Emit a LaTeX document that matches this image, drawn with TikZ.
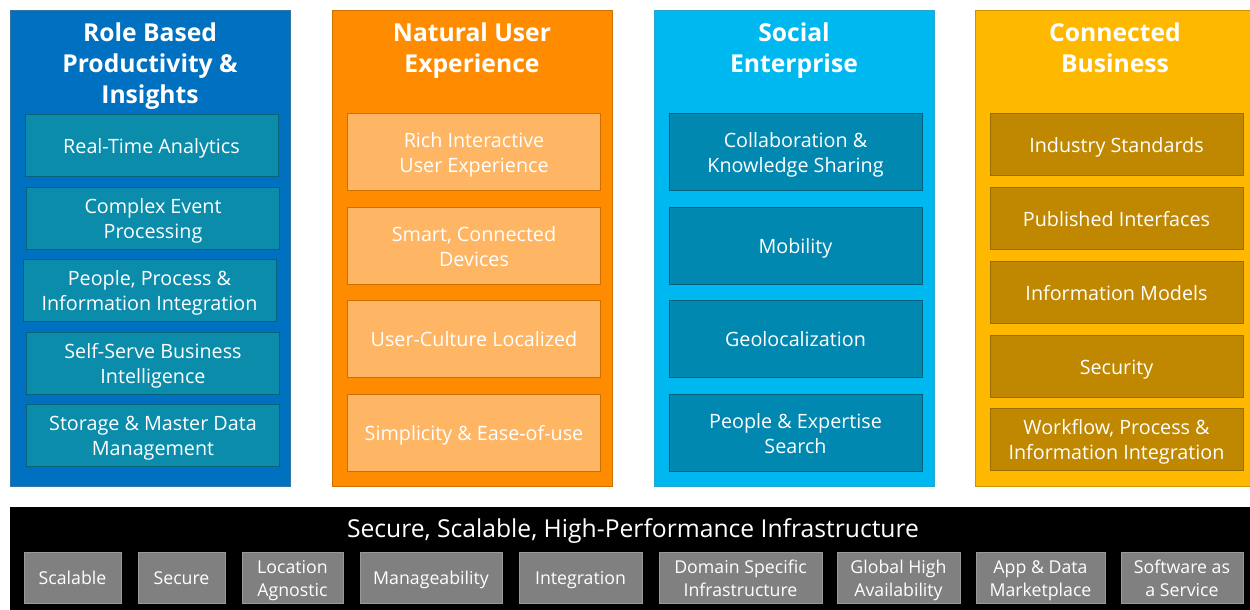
\documentclass[tikz,border=0pt]{standalone}
\usepackage{fontspec}
\setmainfont{Open Sans}
\definecolor{roleblue}{HTML}{0070C0}
\definecolor{roleinner}{HTML}{0A8CAA}
\definecolor{natorange}{HTML}{FF8C00}
\definecolor{natinner}{HTML}{FFB664}
\definecolor{socialcyan}{HTML}{00B8F0}
\definecolor{socialinner}{HTML}{0088B0}
\definecolor{conngold}{HTML}{FFB800}
\definecolor{conninner}{HTML}{BF8800}
\definecolor{infragray}{HTML}{808080}
% centred lines of box text, sitting a touch low like the slide
\newcommand\boxtext[1]{\raisebox{-0.41em}[0pt][0pt]{\begin{tabular}{@{}c@{}}#1\end{tabular}}}
\begin{document}
\begin{tikzpicture}[x=0.75pt,y=-0.75pt,
    title/.style={anchor=north,inner sep=0pt,text=white,align=center,
        font=\fontsize{18.5}{23.6}\selectfont\bfseries},
    item/.style={text=white,inner sep=0pt,font=\fontsize{14.8}{18.75}\selectfont,
        minimum width=189.75pt},
    short/.style={item,minimum height=46.5pt},
    tall/.style={item,minimum height=57.75pt},
    infra/.style={draw=gray!80!white,fill=infragray,text=white,inner sep=0pt,
        font=\fontsize{13.3}{17.25}\selectfont,minimum height=38.25pt},
    w/.style={minimum width=#1*0.75pt}]
    \clip (0,0) rectangle (1250,610);
    \fill[white] (0,0) rectangle (1250,610);
    % columns
    \filldraw[fill=roleblue,draw=roleblue!60!gray] (10,10) rectangle (290,486);
    \filldraw[fill=natorange,draw=natorange!80!black] (332,10) rectangle (612,486);
    \filldraw[fill=socialcyan,draw=socialcyan!70!gray] (654,10) rectangle (934,486);
    \filldraw[fill=conngold,draw=conngold!80!black] (975,10) rectangle (1255,486);
    % Role Based Productivity & Insights
    \node[title] (roletitle) at (150,22) {Role Based\\Productivity \&\\Insights};
    \node[short,fill=roleinner,draw=roleinner!70!black] (rta) at (151.5,145) {\boxtext{Real-Time Analytics}};
    \node[short,fill=roleinner,draw=roleinner!70!black] (cep) at (153,218) {\boxtext{Complex Event\\Processing}};
    \node[short,fill=roleinner,draw=roleinner!70!black] (ppi) at (149.5,290) {\boxtext{People, Process \&\\Information Integration}};
    \node[short,fill=roleinner,draw=roleinner!70!black] (ssbi) at (153,363) {\boxtext{Self-Serve Business\\Intelligence}};
    \node[short,fill=roleinner,draw=roleinner!70!black] (smdm) at (153,435) {\boxtext{Storage \& Master Data\\Management}};
    % Natural User Experience
    \node[title] (nattitle) at (472,22) {Natural User\\Experience};
    \node[tall,fill=natinner,draw=natorange!80!black] (riux) at (474,151.5) {\boxtext{Rich Interactive\\User Experience}};
    \node[tall,fill=natinner,draw=natorange!80!black] (scd) at (474,245.5) {\boxtext{Smart, Connected\\Devices}};
    \node[tall,fill=natinner,draw=natorange!80!black] (ucl) at (474,338.5) {\boxtext{User-Culture Localized}};
    \node[tall,fill=natinner,draw=natorange!80!black] (sau) at (474,432.5) {\boxtext{Simplicity \& Ease-of-use}};
    % Social Enterprise
    \node[title] (soctitle) at (794,22) {Social\\Enterprise};
    \node[tall,fill=socialinner,draw=socialinner!70!black] (cks) at (795.5,151.5) {\boxtext{Collaboration \&\\Knowledge Sharing}};
    \node[tall,fill=socialinner,draw=socialinner!70!black] (mob) at (795.5,245.5) {\boxtext{Mobility}};
    \node[tall,fill=socialinner,draw=socialinner!70!black] (geo) at (795.5,338.5) {\boxtext{Geolocalization}};
    \node[tall,fill=socialinner,draw=socialinner!70!black] (pes) at (795.5,432.5) {\boxtext{People \& Expertise\\Search}};
    % Connected Business
    \node[title] (conntitle) at (1115,22) {Connected\\Business};
    \node[short,fill=conninner,draw=conninner!80!black] (ins) at (1116.5,144.5) {\boxtext{Industry Standards}};
    \node[short,fill=conninner,draw=conninner!80!black] (pin) at (1116.5,218) {\boxtext{Published Interfaces}};
    \node[short,fill=conninner,draw=conninner!80!black] (inm) at (1116.5,292.5) {\boxtext{Information Models}};
    \node[short,fill=conninner,draw=conninner!80!black] (sec) at (1116.5,366) {\boxtext{Security}};
    \node[short,fill=conninner,draw=conninner!80!black] (wpi) at (1116.5,439) {\boxtext{Workflow, Process \&\\Information Integration}};
    % infrastructure band
    \fill[black] (10,507) rectangle (1255,615);
    \node[text=white,font=\fontsize{18.5}{22}\selectfont] (infratitle) at (633,531) {Secure, Scalable, High-Performance Infrastructure};
    \node[infra,w=97] (scal) at (72.5,577.5) {\boxtext{Scalable}};
    \node[infra,w=87] (secu) at (181.5,577.5) {\boxtext{Secure}};
    \node[infra,w=101] (loca) at (292.5,577.5) {\boxtext{Location\\Agnostic}};
    \node[infra,w=142] (mana) at (431,577.5) {\boxtext{Manageability}};
    \node[infra,w=123] (inte) at (580.5,577.5) {\boxtext{Integration}};
    \node[infra,w=163] (doma) at (740.5,577.5) {\boxtext{Domain Specific\\Infrastructure}};
    \node[infra,w=123] (glob) at (898.5,577.5) {\boxtext{Global High\\Availability}};
    \node[infra,w=129] (appd) at (1040.5,577.5) {\boxtext{App \& Data\\Marketplace}};
    \node[infra,w=122] (soft) at (1182,577.5) {\boxtext{Software as\\a Service}};
\end{tikzpicture}
\end{document}
